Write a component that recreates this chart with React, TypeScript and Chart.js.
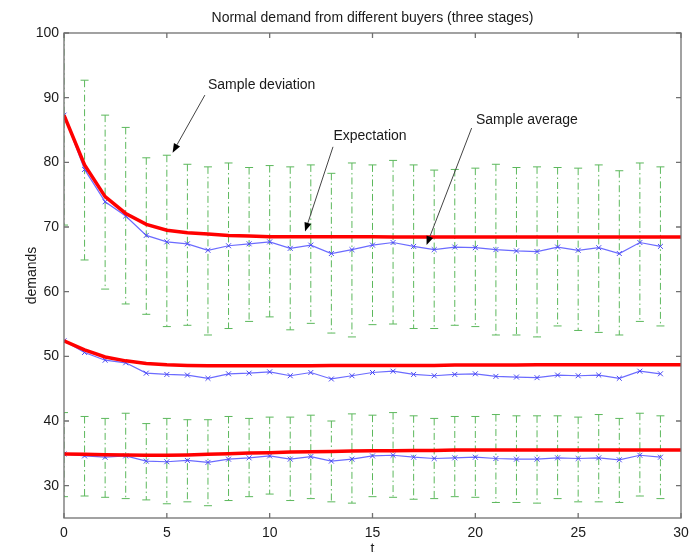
import React, { useEffect, useRef } from "react";
import { Chart, registerables } from "chart.js";

Chart.register(...registerables);

// ---------- data ----------
const tValues = [0, 1, 2, 3, 4, 5, 6, 7, 8, 9, 10, 11, 12, 13, 14, 15, 16, 17, 18, 19, 20, 21, 22, 23, 24, 25, 26, 27, 28, 29];
const tExpect = [0, 1, 2, 3, 4, 5, 6, 7, 8, 9, 10, 11, 12, 13, 14, 15, 16, 17, 18, 19, 20, 21, 22, 23, 24, 25, 26, 27, 28, 29, 30];
const xTicks = [0, 5, 10, 15, 20, 25, 30];
const yTicks = [30, 40, 50, 60, 70, 80, 90, 100];

// Stage 1 (high demand)
const expectTop = [87.3, 79.6, 74.7, 72.1, 70.4, 69.5, 69.1, 68.9, 68.7, 68.6, 68.5, 68.5, 68.5, 68.5, 68.5, 68.5, 68.45, 68.45, 68.45, 68.45, 68.45, 68.45, 68.45, 68.45, 68.45, 68.45, 68.45, 68.45, 68.45, 68.45, 68.45];
const avgTop = [87.3, 78.9, 73.9, 71.7, 68.7, 67.7, 67.4, 66.4, 67.1, 67.4, 67.7, 66.7, 67.2, 65.9, 66.5, 67.2, 67.6, 67.0, 66.5, 66.9, 66.8, 66.5, 66.3, 66.2, 66.9, 66.4, 66.8, 65.9, 67.6, 67.0];
const devTopHigh = [104.3, 92.7, 87.3, 85.4, 80.7, 81.1, 79.7, 79.3, 79.9, 79.2, 79.5, 79.3, 79.6, 78.3, 79.9, 79.6, 80.3, 79.6, 78.8, 78.9, 79.1, 79.7, 79.2, 79.3, 79.2, 79.1, 79.6, 78.7, 79.9, 79.3];
const devTopLow = [70.3, 64.9, 60.4, 58.1, 56.5, 54.6, 54.8, 53.3, 54.3, 55.4, 56.1, 54.1, 55.1, 53.6, 53.0, 54.9, 55.0, 54.3, 54.3, 54.8, 54.6, 53.3, 53.3, 53.0, 54.7, 54.0, 53.7, 53.3, 55.4, 54.7];

// Stage 2 (medium demand)
const expectMid = [52.4, 51.0, 49.9, 49.3, 48.9, 48.7, 48.6, 48.55, 48.55, 48.55, 48.55, 48.55, 48.55, 48.6, 48.6, 48.6, 48.6, 48.6, 48.6, 48.65, 48.65, 48.65, 48.65, 48.7, 48.7, 48.7, 48.7, 48.7, 48.7, 48.7, 48.7];
const avgMid = [52.4, 50.6, 49.4, 49.0, 47.4, 47.2, 47.1, 46.6, 47.3, 47.4, 47.6, 47.0, 47.5, 46.5, 47.0, 47.5, 47.7, 47.2, 47.0, 47.2, 47.3, 46.9, 46.8, 46.7, 47.1, 47.0, 47.1, 46.6, 47.7, 47.3];

// Stage 3 (low demand)
const expectBot = [34.9, 34.85, 34.8, 34.75, 34.7, 34.7, 34.75, 34.85, 34.95, 35.05, 35.1, 35.2, 35.25, 35.3, 35.35, 35.4, 35.4, 35.45, 35.45, 35.5, 35.5, 35.5, 35.5, 35.5, 35.5, 35.5, 35.5, 35.5, 35.5, 35.5, 35.5];
const avgBot = [34.9, 34.6, 34.4, 34.6, 33.8, 33.7, 33.9, 33.6, 34.1, 34.3, 34.6, 34.1, 34.5, 33.8, 34.1, 34.6, 34.7, 34.4, 34.2, 34.3, 34.4, 34.2, 34.1, 34.1, 34.3, 34.2, 34.3, 34.0, 34.7, 34.4];
const devBotHigh = [41.3, 40.7, 40.4, 41.2, 39.6, 40.4, 40.2, 40.2, 40.7, 40.4, 40.6, 40.6, 40.9, 40.0, 41.1, 40.9, 41.3, 40.8, 40.4, 40.7, 40.7, 41.0, 40.8, 40.8, 40.8, 40.6, 41.0, 40.4, 41.2, 40.8];
const devBotLow = [28.3, 28.4, 28.2, 28.0, 27.8, 27.2, 27.5, 26.9, 27.7, 28.3, 28.7, 27.7, 28.0, 27.5, 27.3, 28.3, 28.2, 27.9, 28.0, 28.3, 28.2, 27.4, 27.4, 27.3, 28.0, 27.5, 27.5, 27.4, 28.4, 28.0];

const titleText = "Normal demand from different buyers (three stages)";
const xLabel = "t";
const yLabel = "demands";

// annotations: text + arrow (in data coordinates)
const annotations = [
  { text: "Sample deviation", tx: 7.0, ty: 92.0, align: "left", ax: 6.85, ay: 90.4, hx: 5.28, hy: 81.5 },
  { text: "Expectation", tx: 14.88, ty: 84.0, align: "center", ax: 13.08, ay: 82.4, hx: 11.72, hy: 69.3 },
  { text: "Sample average", tx: 20.03, ty: 86.5, align: "left", ax: 19.82, ay: 85.3, hx: 17.63, hy: 67.2 },
];

const FONT = "'Liberation Sans', Arial, Helvetica, sans-serif";
const TEXT_COLOR = "#1a1a1a";
const AXIS_COLOR = "#707070";

const pts = (ts: number[], ys: number[]) => ys.map((y, i) => ({ x: ts[i], y }));

const overlayPlugin = {
  id: "overlay",
  beforeDatasetsDraw(chart: any) {
    const { ctx, chartArea, scales } = chart;
    const xs = scales.x;
    const ys = scales.y;
    ctx.save();
    ctx.beginPath();
    ctx.rect(chartArea.left, chartArea.top, chartArea.right - chartArea.left, chartArea.bottom - chartArea.top);
    ctx.clip();
    ctx.strokeStyle = "#5cb85c";
    ctx.lineWidth = 1;
    const cap = 4;
    const drawBars = (hi: number[], lo: number[]) => {
      for (let i = 0; i < tValues.length; i++) {
        const px = xs.getPixelForValue(tValues[i]);
        const pyH = ys.getPixelForValue(hi[i]);
        const pyL = ys.getPixelForValue(lo[i]);
        ctx.setLineDash([7, 3, 1.5, 3]);
        ctx.beginPath();
        ctx.moveTo(px, pyH);
        ctx.lineTo(px, pyL);
        ctx.stroke();
        ctx.setLineDash([]);
        ctx.beginPath();
        ctx.moveTo(px - cap, pyH);
        ctx.lineTo(px + cap, pyH);
        ctx.moveTo(px - cap, pyL);
        ctx.lineTo(px + cap, pyL);
        ctx.stroke();
      }
    };
    drawBars(devTopHigh, devTopLow);
    drawBars(devBotHigh, devBotLow);
    ctx.restore();
  },
  afterDraw(chart: any) {
    const { ctx, chartArea, scales } = chart;
    const xs = scales.x;
    const ys = scales.y;
    const { left, right, top, bottom } = chartArea;
    ctx.save();
    // box
    ctx.strokeStyle = AXIS_COLOR;
    ctx.lineWidth = 1.3;
    ctx.setLineDash([]);
    ctx.strokeRect(left, top, right - left, bottom - top);
    // inward ticks
    const tl = 5;
    ctx.beginPath();
    xTicks.forEach((v) => {
      const px = xs.getPixelForValue(v);
      ctx.moveTo(px, bottom);
      ctx.lineTo(px, bottom - tl);
      ctx.moveTo(px, top);
      ctx.lineTo(px, top + tl);
    });
    yTicks.forEach((v) => {
      const py = ys.getPixelForValue(v);
      ctx.moveTo(left, py);
      ctx.lineTo(left + tl, py);
      ctx.moveTo(right, py);
      ctx.lineTo(right - tl, py);
    });
    ctx.stroke();

    // title
    ctx.fillStyle = TEXT_COLOR;
    ctx.font = `14px ${FONT}`;
    ctx.textAlign = "center";
    ctx.textBaseline = "middle";
    ctx.fillText(titleText, (left + right) / 2, 18);

    // x label
    ctx.textBaseline = "top";
    ctx.fillText(xLabel, (left + right) / 2, 542);

    // y label
    ctx.save();
    ctx.translate(32, (top + bottom) / 2);
    ctx.rotate(-Math.PI / 2);
    ctx.textAlign = "center";
    ctx.textBaseline = "middle";
    ctx.fillText(yLabel, 0, 0);
    ctx.restore();

    // annotations
    annotations.forEach((a) => {
      const tx = xs.getPixelForValue(a.tx);
      const ty = ys.getPixelForValue(a.ty);
      ctx.fillStyle = TEXT_COLOR;
      ctx.font = `14px ${FONT}`;
      ctx.textAlign = a.align as CanvasTextAlign;
      ctx.textBaseline = "middle";
      ctx.fillText(a.text, tx, ty);

      const x0 = xs.getPixelForValue(a.ax);
      const y0 = ys.getPixelForValue(a.ay);
      const x1 = xs.getPixelForValue(a.hx);
      const y1 = ys.getPixelForValue(a.hy);
      const ang = Math.atan2(y1 - y0, x1 - x0);
      const hl = 9;
      const hw = 3.5;
      const bx = x1 - hl * Math.cos(ang);
      const by = y1 - hl * Math.sin(ang);
      ctx.strokeStyle = "#444";
      ctx.lineWidth = 1;
      ctx.beginPath();
      ctx.moveTo(x0, y0);
      ctx.lineTo(bx, by);
      ctx.stroke();
      ctx.fillStyle = "#000";
      ctx.beginPath();
      ctx.moveTo(x1, y1);
      ctx.lineTo(bx + hw * Math.sin(ang), by - hw * Math.cos(ang));
      ctx.lineTo(bx - hw * Math.sin(ang), by + hw * Math.cos(ang));
      ctx.closePath();
      ctx.fill();
    });
    ctx.restore();
  },
};

export default function App() {
  const canvasRef = useRef<HTMLCanvasElement | null>(null);

  useEffect(() => {
    if (!canvasRef.current) return;
    const redLine = (data: number[], label: string) => ({
      label,
      data: pts(tExpect, data),
      borderColor: "#ff0000",
      backgroundColor: "#ff0000",
      borderWidth: 3.5,
      pointRadius: 0,
      tension: 0,
      order: 0,
    });
    const blueLine = (data: number[], label: string) => ({
      label,
      data: pts(tValues, data),
      borderColor: "#6b6bff",
      backgroundColor: "#6b6bff",
      borderWidth: 1.2,
      pointStyle: "crossRot",
      pointRadius: 3.5,
      pointBorderColor: "#4a4af2",
      pointBorderWidth: 1,
      tension: 0,
      order: 1,
    });

    const chart = new Chart(canvasRef.current, {
      type: "line",
      data: {
        datasets: [
          redLine(expectTop, "Expectation stage 1"),
          redLine(expectMid, "Expectation stage 2"),
          redLine(expectBot, "Expectation stage 3"),
          blueLine(avgTop, "Sample average stage 1"),
          blueLine(avgMid, "Sample average stage 2"),
          blueLine(avgBot, "Sample average stage 3"),
        ] as any,
      },
      options: {
        animation: false,
        responsive: false,
        devicePixelRatio: 1,
        layout: { padding: { top: 33, right: 17, left: 0, bottom: 0 } },
        plugins: {
          legend: { display: false },
          title: { display: false },
          tooltip: { enabled: false },
        },
        scales: {
          x: {
            type: "linear",
            min: 0,
            max: 30,
            grid: { display: false, drawTicks: false },
            border: { display: false },
            ticks: { padding: 7, color: TEXT_COLOR, font: { size: 14, family: FONT } },
            afterBuildTicks: (s: any) => {
              s.ticks = xTicks.map((v) => ({ value: v }));
            },
            afterFit: (s: any) => {
              s.height = 34;
            },
          },
          y: {
            type: "linear",
            min: 25,
            max: 100,
            grid: { display: false, drawTicks: false },
            border: { display: false },
            ticks: { padding: 5, color: TEXT_COLOR, font: { size: 14, family: FONT } },
            afterBuildTicks: (s: any) => {
              s.ticks = yTicks.map((v) => ({ value: v }));
            },
            afterFit: (s: any) => {
              s.width = 64;
            },
          },
        },
      } as any,
      plugins: [overlayPlugin],
    });
    return () => chart.destroy();
  }, []);

  return (
    <div style={{ position: "fixed", left: 0, top: 0, width: 698, height: 552, background: "#fff" }}>
      <canvas ref={canvasRef} width={698} height={552} style={{ display: "block" }} />
    </div>
  );
}
